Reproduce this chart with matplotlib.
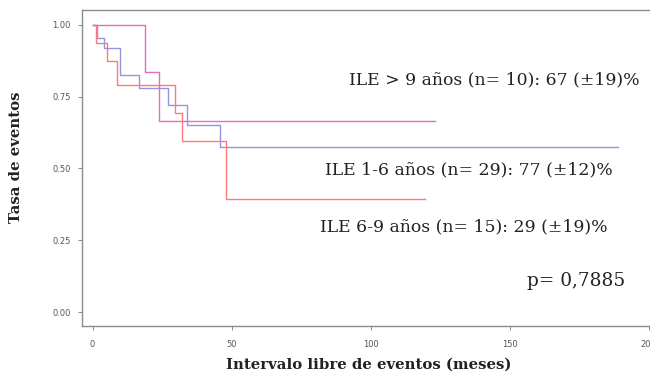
import matplotlib
matplotlib.use("Agg")
import matplotlib.pyplot as plt

# Data
t_16 = [0, 1.6, 4.1, 9.9, 16.7, 27, 34, 46, 189]
s_16 = [1.0, 0.955, 0.92, 0.826, 0.78, 0.72, 0.653, 0.576, 0.576]
t_69 = [0, 1.3, 5.2, 8.8, 29.7, 32, 48, 119.6]
s_69 = [1.0, 0.937, 0.875, 0.79, 0.694, 0.597, 0.395, 0.395]
t_9 = [0, 18.9, 24, 123]
s_9 = [1.0, 0.837, 0.667, 0.667]

yticks = [0.0, 0.25, 0.5, 0.75, 1.0]
ytick_labels = ["0.00", "0.25", "0.50", "0.75", "1.00"]
xticks = [0, 50, 100, 150, 200]
xtick_labels = ["0", "50", "100", "150", "200"]

labels = [
    "ILE > 9 años (n= 10): 67 (±19)%",
    "ILE 1-6 años (n= 29): 77 (±12)%",
    "ILE 6-9 años (n= 15): 29 (±19)%",
]
pval = "p= 0,7885"

W, H = 650, 376
fig = plt.figure(figsize=(6.5, 3.76), dpi=100)
ax = fig.add_axes([82 / W, 50 / H, 580 / W, 316 / H])

ax.step(t_16, s_16, where="post", color="#9494e0", lw=1.0)
ax.step(t_69, s_69, where="post", color="#ff7a7a", lw=1.0)
ax.step(t_9, s_9, where="post", color="#e070be", lw=1.0)

ax.set_xlim(-3.8, 204.8)
ax.set_ylim(-0.0486, 1.052)
ax.set_yticks(yticks)
ax.set_yticklabels(ytick_labels)
ax.set_xticks(xticks)
ax.set_xticklabels(xtick_labels)
ax.tick_params(axis="both", labelsize=6, colors="#777777", length=3, width=0.6,
               labelcolor="#555555")
ax.tick_params(axis="x", pad=7)
ax.tick_params(axis="y", pad=5)
for sp in ax.spines.values():
    sp.set_color("#8a8a8a")
    sp.set_linewidth(1.0)

serif = ["DejaVu Serif"]

def px(x, y):
    return x / W, 1 - y / H

fs = 12.45
fig.text(*px(640, 80), labels[0], ha="right", va="center", fontsize=fs, family=serif, color="#222222")
fig.text(*px(613, 170), labels[1], ha="right", va="center", fontsize=fs, family=serif, color="#222222")
fig.text(*px(608, 227), labels[2], ha="right", va="center", fontsize=fs, family=serif, color="#222222")
fig.text(*px(625, 281), pval, ha="right", va="center", fontsize=13.3, family=serif, color="#222222")

fig.text(*px(369, 365), "Intervalo libre de eventos (meses)", ha="center", va="center",
         fontsize=10.7, family=serif, weight="bold", color="#222222")
fig.text(*px(16, 157), "Tasa de eventos", ha="center", va="center", rotation=90,
         fontsize=10.7, family=serif, weight="bold", color="#222222")

fig.savefig("out.png", dpi=100)
